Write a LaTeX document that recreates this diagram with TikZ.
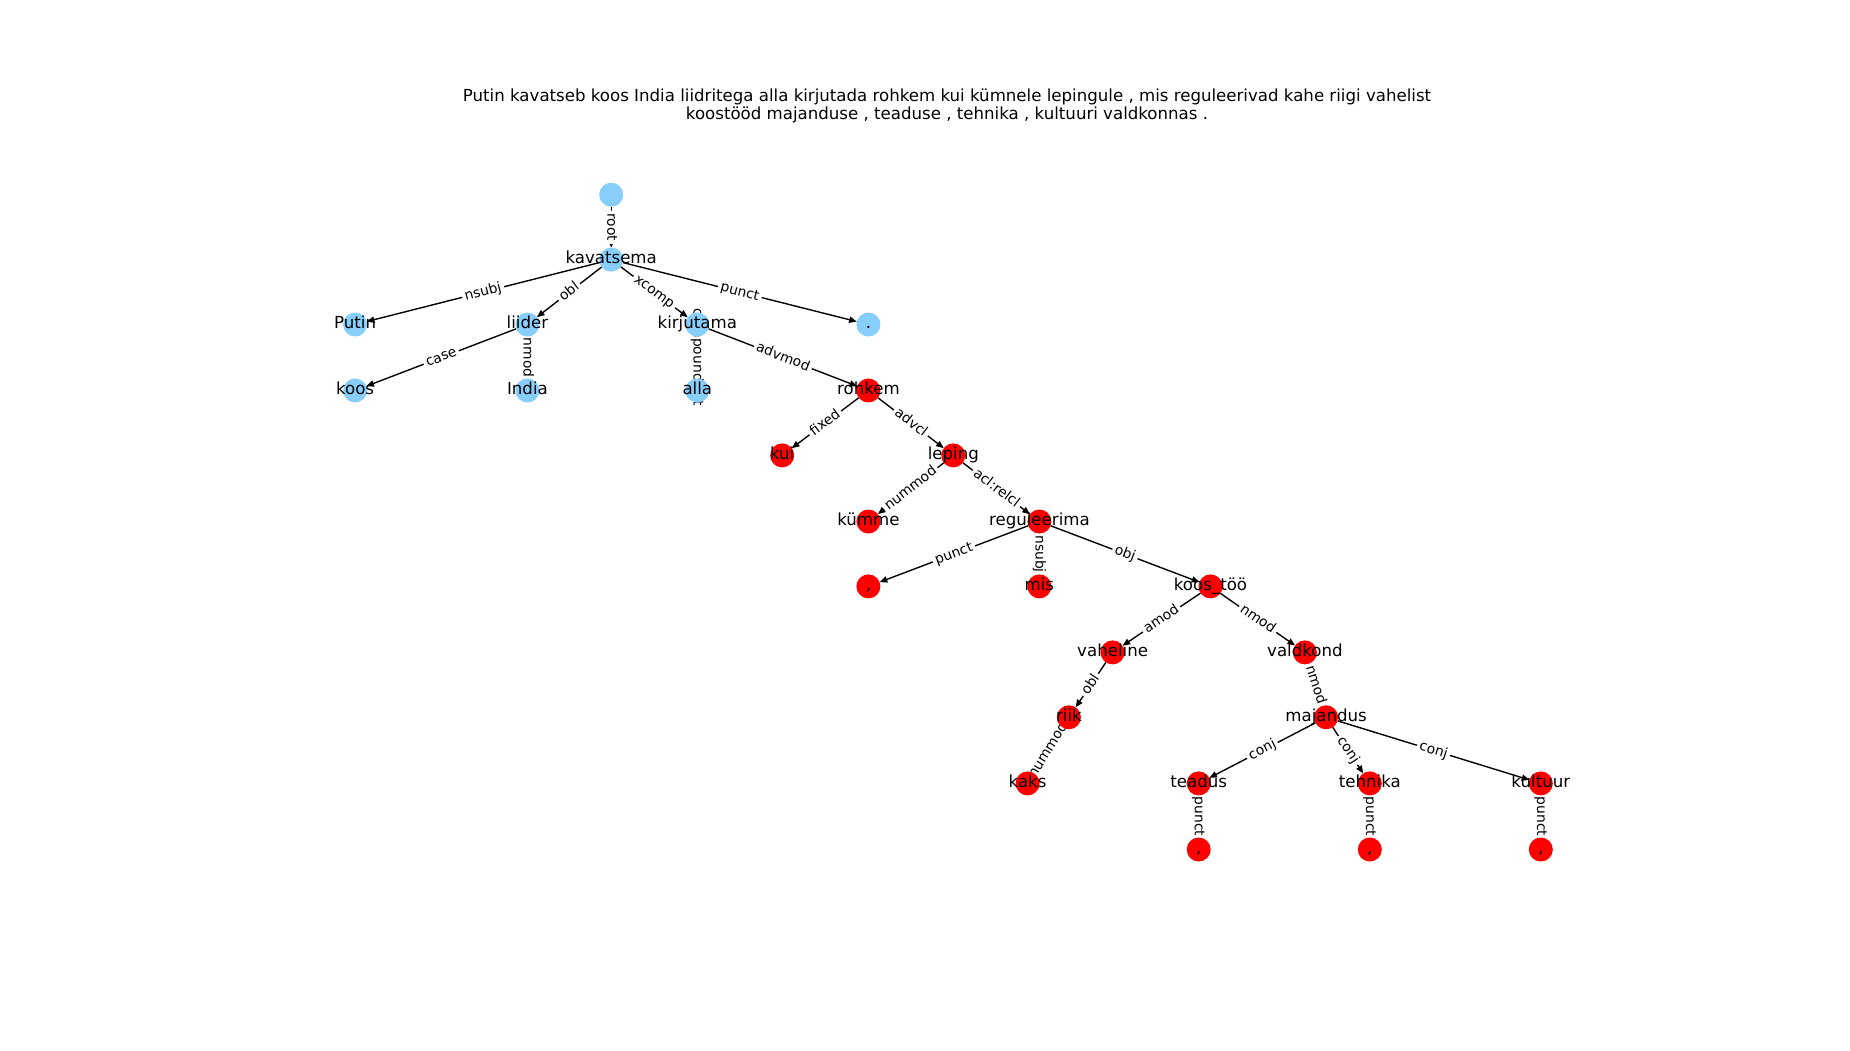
\documentclass[tikz,border=0pt]{standalone}
\usepackage{fontspec}
\setmainfont{DejaVu Sans}
\usetikzlibrary{arrows.meta}
\pgfdeclarelayer{bg}
\pgfsetlayers{bg,main}
\definecolor{skyb}{HTML}{87CEFA}
\begin{document}
\begin{tikzpicture}[x=0.01in,y=-0.01in,
  vnode/.style={circle,minimum size=0.24in,inner sep=0pt,outer sep=0pt,draw=none},
  bnode/.style={vnode,fill=skyb},
  rnode/.style={vnode,fill=red},
  wlab/.style={font=\fontsize{12}{14}\selectfont,inner sep=0pt,text height=0.76em,text depth=0.21em},
  elab/.style={font=\fontsize{10}{12}\selectfont,fill=white,rounded corners=2pt,inner sep=2pt,text height=0.76em,text depth=0.21em,sloped,midway},
  dep/.style={line width=1pt,-{Triangle[length=5.5pt,width=4.5pt]}}]
\useasboundingbox (0,0) rectangle (1850,1050);
\node[font=\fontsize{12}{14}\selectfont] (title1) at (947,96.5) {Putin kavatseb koos India liidritega alla kirjutada rohkem kui kümnele lepingule , mis reguleerivad kahe riigi vahelist};
\node[font=\fontsize{12}{14}\selectfont] (title2) at (947,114.5) {koostööd majanduse , teaduse , tehnika , kultuuri valdkonnas .};
% nodes
\node[bnode] (root) at (611.2,194.7) {};
\node[bnode] (kav) at (611.2,259.6) {};
\node[bnode] (putin) at (355.1,324.5) {};
\node[bnode] (liider) at (527.4,324.5) {};
\node[bnode] (kirj) at (697.3,324.5) {};
\node[bnode] (dot) at (868.4,324.5) {};
\node[bnode] (koos) at (355.1,390.5) {};
\node[bnode] (india) at (527.4,390.5) {};
\node[bnode] (alla) at (697.3,390.5) {};
\node[rnode] (rohkem) at (868.4,390.5) {};
\node[rnode] (kui) at (782.2,455.4) {};
\node[rnode] (leping) at (953.3,455.4) {};
\node[rnode] (kumme) at (868.4,521.5) {};
\node[rnode] (regul) at (1039.4,521.5) {};
\node[rnode] (c1) at (868.4,586.4) {};
\node[rnode] (mis) at (1039.4,586.4) {};
\node[rnode] (koostoo) at (1210.5,586.4) {};
\node[rnode] (vahel) at (1112.6,652.4) {};
\node[rnode] (valdk) at (1304.9,652.4) {};
\node[rnode] (riik) at (1068.9,717.3) {};
\node[rnode] (maj) at (1326.1,717.3) {};
\node[rnode] (kaks) at (1027.6,783.4) {};
\node[rnode] (tead) at (1198.7,783.4) {};
\node[rnode] (tehn) at (1369.8,783.4) {};
\node[rnode] (kult) at (1540.8,783.4) {};
\node[rnode] (c2) at (1198.7,849.5) {};
\node[rnode] (c3) at (1369.8,849.5) {};
\node[rnode] (c4) at (1540.8,849.5) {};
% word labels
\node[wlab] (t-kav) at (kav) {kavatsema};
\node[wlab] (t-putin) at (putin) {Putin};
\node[wlab] (t-liider) at (liider) {liider};
\node[wlab] (t-kirj) at (kirj) {kirjutama};
\node[wlab] (t-dot) at (dot) {.};
\node[wlab] (t-koos) at (koos) {koos};
\node[wlab] (t-india) at (india) {India};
\node[wlab] (t-alla) at (alla) {alla};
\node[wlab] (t-rohkem) at (rohkem) {rohkem};
\node[wlab] (t-kui) at (kui) {kui};
\node[wlab] (t-leping) at (leping) {leping};
\node[wlab] (t-kumme) at (kumme) {kümme};
\node[wlab] (t-regul) at (regul) {reguleerima};
\node[wlab] (t-c1) at (c1) {,};
\node[wlab] (t-mis) at (mis) {mis};
\node[wlab] (t-koostoo) at (koostoo) {koos\_töö};
\node[wlab] (t-vahel) at (vahel) {vaheline};
\node[wlab] (t-valdk) at (valdk) {valdkond};
\node[wlab] (t-riik) at (riik) {riik};
\node[wlab] (t-maj) at (maj) {majandus};
\node[wlab] (t-kaks) at (kaks) {kaks};
\node[wlab] (t-tead) at (tead) {teadus};
\node[wlab] (t-tehn) at (tehn) {tehnika};
\node[wlab] (t-kult) at (kult) {kultuur};
\node[wlab] (t-c2) at (c2) {,};
\node[wlab] (t-c3) at (c3) {,};
\node[wlab] (t-c4) at (c4) {,};
% edges
\begin{pgfonlayer}{bg}
\draw[dep] (root) -- node[elab] {root} (kav);
\draw[dep] (kav) -- node[elab] {nsubj} (putin);
\draw[dep] (kav) -- node[elab] {obl} (liider);
\draw[dep] (kav) -- node[elab] {xcomp} (kirj);
\draw[dep] (kav) -- node[elab] {punct} (dot);
\draw[dep] (liider) -- node[elab] {case} (koos);
\draw[dep] (liider) -- node[elab] {nmod} (india);
\draw[dep] (kirj) -- node[elab] {compound:prt} (alla);
\draw[dep] (kirj) -- node[elab] {advmod} (rohkem);
\draw[dep] (rohkem) -- node[elab] {fixed} (kui);
\draw[dep] (rohkem) -- node[elab] {advcl} (leping);
\draw[dep] (leping) -- node[elab] {nummod} (kumme);
\draw[dep] (leping) -- node[elab] {acl:relcl} (regul);
\draw[dep] (regul) -- node[elab] {punct} (c1);
\draw[dep] (regul) -- node[elab] {nsubj} (mis);
\draw[dep] (regul) -- node[elab] {obj} (koostoo);
\draw[dep] (koostoo) -- node[elab] {amod} (vahel);
\draw[dep] (koostoo) -- node[elab] {nmod} (valdk);
\draw[dep] (vahel) -- node[elab] {obl} (riik);
\draw[dep] (riik) -- node[elab] {nummod} (kaks);
\draw[dep] (valdk) -- node[elab] {nmod} (maj);
\draw[dep] (maj) -- node[elab] {conj} (tead);
\draw[dep] (maj) -- node[elab] {conj} (tehn);
\draw[dep] (maj) -- node[elab] {conj} (kult);
\draw[dep] (tead) -- node[elab] {punct} (c2);
\draw[dep] (tehn) -- node[elab] {punct} (c3);
\draw[dep] (kult) -- node[elab] {punct} (c4);
\end{pgfonlayer}
\end{tikzpicture}
\end{document}
